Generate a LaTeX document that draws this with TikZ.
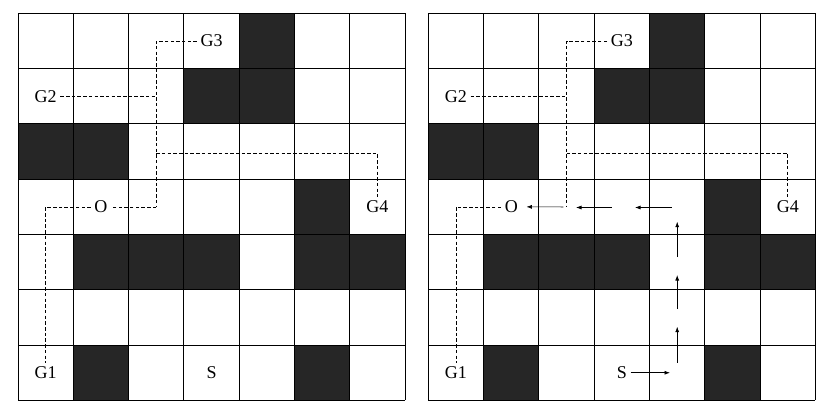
\documentclass[tikz,border=0pt]{standalone}
\usepackage{fontspec}
\setmainfont{Liberation Serif}
\usetikzlibrary{arrows.meta}
\definecolor{obst}{RGB}{38,38,38}
\begin{document}
\begin{tikzpicture}[x=1pt,y=-1pt,
  lbl/.style={font=\fontsize{18}{18}\selectfont, inner sep=3.5pt},
  gridline/.style={line width=0.9pt},
  dline/.style={line width=0.7pt, dash pattern=on 3.5pt off 2.2pt},
  mv/.style={line width=0.7pt, -{Latex[length=5.5pt,width=4pt]}},
]
\useasboundingbox (0,0) rectangle (830,415);
\def\cs{55.3}
\foreach \ox/\p in {18/L, 428.3/R} {
  \foreach \c/\r in {4/0,3/1,4/1,0/2,1/2,5/3,1/4,2/4,3/4,5/4,6/4,1/6,5/6}
    \fill[obst] (\ox+\c*\cs, 13.3+\r*\cs) rectangle ++(\cs,\cs);
  \foreach \i in {0,...,7} {
    \draw[gridline] (\ox+\i*\cs,13.3) -- (\ox+\i*\cs,13.3+7*\cs);
    \draw[gridline] (\ox,13.3+\i*\cs) -- (\ox+7*\cs,13.3+\i*\cs);
  }
  \node[lbl] (\p G1) at (\ox+0.5*\cs, 13.3+6.5*\cs) {G1};
  \node[lbl] (\p G2) at (\ox+0.5*\cs, 13.3+1.5*\cs) {G2};
  \node[lbl] (\p G3) at (\ox+3.5*\cs, 13.3+0.5*\cs) {G3};
  \node[lbl] (\p G4) at (\ox+6.5*\cs, 13.3+3.5*\cs) {G4};
  \node[lbl] (\p O)  at (\ox+1.5*\cs, 13.3+3.5*\cs) {O};
  \node[lbl] (\p S)  at (\ox+3.5*\cs, 13.3+6.5*\cs) {S};
  \coordinate (\p A) at (\ox+2.5*\cs, 13.3+0.5*\cs);
  \coordinate (\p B) at (\ox+2.5*\cs, 13.3+3.5*\cs);
  \coordinate (\p C) at (\ox+2.5*\cs, 13.3+1.5*\cs);
  \coordinate (\p D) at (\ox+2.5*\cs, 153.3);
  \coordinate (\p E) at (\ox+6.5*\cs, 153.3);
  \coordinate (\p F) at (\ox+0.5*\cs, 13.3+3.5*\cs);
  \draw[dline] (\p G3) -- (\p A) -- (\p B);
  \draw[dline] (\p G2) -- (\p C);
  \draw[dline] (\p D) -- (\p E) -- (\p G4);
  \draw[dline] (\p O) -- (\p F) -- (\p G1);
}
\draw[dline] (LB) -- (LO);
% moves on the right grid
\coordinate (m1) at (670,372.75);
\coordinate (u1a) at (677.2,362.7); \coordinate (u1b) at (677.2,326.7);
\coordinate (u2a) at (677.2,309);   \coordinate (u2b) at (677.2,275);
\coordinate (u3a) at (677.2,257);   \coordinate (u3b) at (677.2,221.7);
\coordinate (l1a) at (671.7,207.5); \coordinate (l1b) at (635,207.5);
\coordinate (l2a) at (611.7,207.5); \coordinate (l2b) at (576,207.5);
\coordinate (l3a) at (563.3,206.9);
\draw[mv] (RS) -- (m1);
\draw[mv] (u1a) -- (u1b);
\draw[mv] (u2a) -- (u2b);
\draw[mv] (u3a) -- (u3b);
\draw[mv] (l1a) -- (l1b);
\draw[mv] (l2a) -- (l2b);
\draw[mv, shorten >=5pt] (l3a) -- (RO);
\end{tikzpicture}
\end{document}
